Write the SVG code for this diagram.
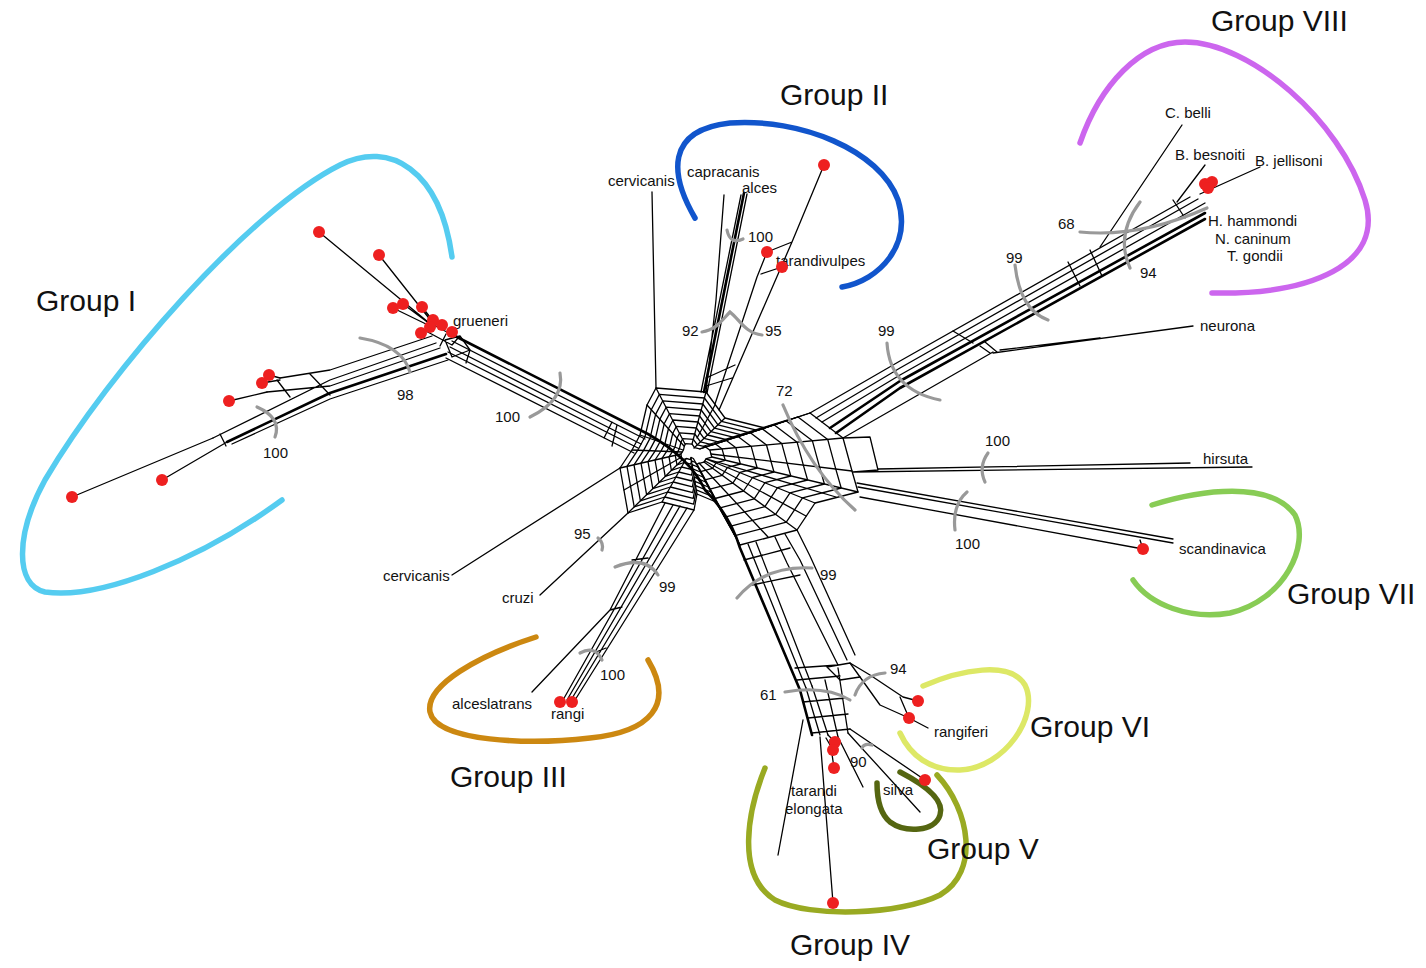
<svg xmlns="http://www.w3.org/2000/svg" xmlns:xlink="http://www.w3.org/1999/xlink" width="1426" height="968" viewBox="0 0 1426 968">
<style>
.n{fill:none;stroke:#000;stroke-width:1.3;stroke-linejoin:round;stroke-linecap:round}
.t{fill:none;stroke:#000;stroke-width:2.6;stroke-linejoin:round;stroke-linecap:round}
.b{fill:none;stroke:#999;stroke-width:3.2;stroke-linecap:round}
.ga{fill:none;stroke-width:5.5;stroke-linecap:round}
.d{fill:#ee2020}
.l{font-family:"Liberation Sans",Arial,sans-serif;font-size:15px;fill:#111}
.g{font-family:"Liberation Sans",Arial,sans-serif;font-size:30px;fill:#111}
</style>
<defs>
<path id="ring" class="n" vector-effect="non-scaling-stroke" d="M640,435 L647,405 L656,388 L706,392 L725,418 L765,428 L810,413 L843,438 L852,471 L858,492 L815,503 L797,530 L740,545 L716,502 L697,494 L694,510 L662,502 L628,513 L620,468 L632,450 Z"/>
</defs>
<rect width="1426" height="968" fill="#fff"/>

<g id="group-arcs">
<path id="arc-I" class="ga" stroke="#55ccf0" d="M452,257 C440,170 390,140 340,165 C250,210 110,370 45,480 C15,535 15,585 45,592 C100,600 200,560 282,500"/>
<path id="arc-II" class="ga" stroke="#1155cc" d="M695,218 C670,175 665,130 730,123 C800,118 880,150 898,200 C912,245 880,280 842,287"/>
<path id="arc-III" class="ga" stroke="#cc8811" d="M536,637 C480,655 425,685 430,712 C436,742 530,745 590,738 C650,732 675,705 648,660"/>
<path id="arc-IV" class="ga" stroke="#99aa22" d="M765,768 C748,810 735,875 775,900 C810,918 900,915 940,895 C980,872 970,810 937,775"/>
<path id="arc-V" class="ga" stroke="#556611" d="M900,772 C925,785 945,800 940,815 C935,832 905,833 890,822 C878,812 877,795 877,783"/>
<path id="arc-VI" class="ga" stroke="#dde866" d="M923,686 C960,670 1010,660 1025,685 C1040,715 1005,768 960,770 C930,771 910,755 900,733"/>
<path id="arc-VII" class="ga" stroke="#88cc55" d="M1152,505 C1200,490 1270,480 1295,515 C1310,545 1285,600 1230,613 C1190,620 1150,605 1133,580"/>
<path id="arc-VIII" class="ga" stroke="#cc66ee" d="M1080,143 C1100,85 1140,42 1185,42 C1250,42 1340,120 1365,200 C1385,265 1310,295 1212,293"/>
</g>

<g id="group-labels">
<text class="g" x="36" y="311">Group I</text>
<text class="g" x="780" y="105">Group II</text>
<text class="g" x="450" y="787">Group III</text>
<text class="g" x="790" y="955">Group IV</text>
<text class="g" x="927" y="859">Group V</text>
<text class="g" x="1030" y="737">Group VI</text>
<text class="g" x="1287" y="604">Group VII</text>
<text class="g" x="1211" y="31">Group VIII</text>
</g>

<g id="connectors">
<!-- central mesh: nested rings -->
<use href="#ring"/>
<use href="#ring" transform="translate(690 452) scale(0.9) translate(-690 -452)"/>
<use href="#ring" transform="translate(690 452) scale(0.8) translate(-690 -452)"/>
<use href="#ring" transform="translate(690 452) scale(0.7) translate(-690 -452)"/>
<use href="#ring" transform="translate(690 452) scale(0.6) translate(-690 -452)"/>
<use href="#ring" transform="translate(690 452) scale(0.5) translate(-690 -452)"/>
<use href="#ring" transform="translate(690 452) scale(0.4) translate(-690 -452)"/>
<use href="#ring" transform="translate(690 452) scale(0.3) translate(-690 -452)"/>
<use href="#ring" transform="translate(690 452) scale(0.21) translate(-690 -452)"/>
<use href="#ring" transform="translate(690 452) scale(0.13) translate(-690 -452)"/>
<path class="n" d="M683,450 L640,435 M684,446 L647,405 M685,444 L656,388 M692,444 L706,392 M694,448 L725,418 M700,449 L765,428 M706,447 L810,413 M710,450 L843,438 M711,454 L852,471 M712,457 L858,492 M706,459 L815,503 M704,462 L797,530 M697,464 L740,545 M691,458 L697,494 M686,459 L662,502 M682,460 L628,513 M681,454 L620,468 M682,452 L632,450 M697,438 L715,405 M704,446 L787,420 M707,459 L836,497 M705,461 L806,516 M699,463 L768,537 M680,458 L624,490"/>

<!-- Group I: apex and bundles -->
<path class="n" d="M319,232 L428,322 M379,255 L432,322 M393,308 L428,325 M403,304 L430,324 M422,307 L434,322"/>
<path class="n" d="M430,323 L458,338 M424,330 L452,345 M446,334 L440,346 M458,338 L452,345 M445,340 L460,336 L470,350 L452,357 Z M470,350 L466,363"/>
<path class="t" d="M455,336 L648,434 Q690,458 705,490 Q730,515 740,548 L800,690 L812,735"/>
<path class="n" d="M452,341 L645,439 M450,347 L641,444 M448,352 L638,448 M446,358 L634,453 M612,422 L604,438 M617,425 L612,446"/>
<path class="n" d="M432,336 L330,370 L280,378 M436,343 L330,380 L213,438 M440,348 L330,386 L267,392 M448,360 L330,399 L232,444 M310,374 L330,395 M277,380 L290,397 M220,434 L226,446"/>
<path class="t" d="M446,354 L330,393 L227,442"/>
<path class="n" d="M280,378 L269,375 M280,380 L262,383 M267,392 L229,401 M213,438 L72,497 M227,442 L162,480"/>

<!-- Group II bundle -->
<path class="n" d="M652,192 L656,388 M724,195 L716,300 L706,392 M741,195 L701,392 M747,194 L707,393"/>
<path class="t" d="M744,193 L704,392"/>
<path class="n" d="M824,165 L792,242 L719,410 M767,252 L757,277 L715,404 M767,252 L792,242 M782,267 L761,274 M706,378 L735,365 M706,386 L732,378"/>

<!-- Group VIII bundle -->
<path class="n" d="M810,413 L900,361 L1190,197 M816,418 L900,368 L1198,199 M822,422 L900,375 L1205,203 M843,438 L993,352"/>
<path class="t" d="M830,428 L900,381 L1205,213 M836,433 L900,388 L1205,219"/>
<path class="n" d="M953,331 L973,343 M980,346 L990,353 M985,342 L997,352 M993,353 L1193,326 M1000,350 L1100,338 M1068,262 L1080,286 M1090,250 L1102,276 M1173,200 L1185,218"/>
<path class="n" d="M1182,125 L1100,247 M1205,165 L1177,202 M1260,167 L1200,194"/>

<!-- hirsuta / scandinavica -->
<path class="n" d="M843,438 L870,437 L878,470 L853,472 M853,472 L1252,467 M878,469 L1190,463 M857,483 L1173,539 M858,487 L1173,543 M860,497 L1143,549 M1140,540 L1143,549"/>

<!-- Bottom bundle (Groups IV-VI) -->
<path class="n" d="M748,544 L806,688 M756,542 L812,686 M775,537 L787,563 L838,665 M785,534 L800,560 L847,660 M797,530 L810,556 L855,655 M744,560 L790,548 M752,585 L800,575 M795,668 L838,665 M827,667 L850,663 L860,677 L840,680 Z"/>
<path class="n" d="M806,688 L820,735 M812,686 L828,735 M825,680 L838,737 M838,668 L848,733 M797,680 L840,676 M803,702 L845,698 M808,718 L848,714 M812,733 L850,729"/>
<path class="n" d="M850,663 L870,675 L903,697 L918,701 M860,677 L880,705 L909,718 L928,728 M900,697 L909,718"/>
<path class="n" d="M803,720 L778,855 M820,737 L833,903 M828,735 L835,742 M826,738 L833,750 M830,740 L834,768 M838,737 L863,787 M848,733 L920,812 M850,729 L925,780"/>

<!-- Group III bundle and lower left -->
<path class="n" d="M694,510 L575,700 M687,508 L571,700 M680,506 L567,700 M673,505 L563,700 M665,503 L610,610 L532,692 M610,610 L622,607 M596,652 L606,648 M632,560 L648,558"/>
<path class="n" d="M452,575 L620,468 M540,595 L628,513"/>
</g>

<g id="bootstrap">
<path class="b" d="M360,338 Q402,345 410,372"/>
<path class="b" d="M560,373 Q565,400 530,417"/>
<path class="b" d="M257,407 Q282,418 275,437"/>
<path class="b" d="M727,230 Q730,245 743,239"/>
<path class="b" d="M702,332 C716,330 722,320 730,312 C740,320 745,333 762,335"/>
<path class="b" d="M783,405 Q810,470 855,510"/>
<path class="b" d="M887,343 Q890,390 940,400"/>
<path class="b" d="M1015,265 Q1020,310 1048,320"/>
<path class="b" d="M1080,232 Q1140,238 1207,208"/>
<path class="b" d="M1140,202 Q1115,235 1130,268"/>
<path class="b" d="M988,453 Q978,467 985,482"/>
<path class="b" d="M967,492 Q952,505 955,530"/>
<path class="b" d="M737,598 Q765,565 812,568"/>
<path class="b" d="M785,692 Q825,685 850,700"/>
<path class="b" d="M855,695 Q862,675 885,673"/>
<path class="b" d="M862,748 Q864,743 872,745"/>
<path class="b" d="M598,538 Q604,543 602,550"/>
<path class="b" d="M615,567 Q645,555 658,575"/>
<path class="b" d="M580,653 Q595,645 602,660"/>
<g class="l">
<text x="397" y="400">98</text>
<text x="495" y="422">100</text>
<text x="263" y="458">100</text>
<text x="748" y="242">100</text>
<text x="682" y="336">92</text>
<text x="765" y="336">95</text>
<text x="776" y="396">72</text>
<text x="878" y="336">99</text>
<text x="1006" y="263">99</text>
<text x="1058" y="229">68</text>
<text x="1140" y="278">94</text>
<text x="985" y="446">100</text>
<text x="955" y="549">100</text>
<text x="820" y="580">99</text>
<text x="760" y="700">61</text>
<text x="890" y="674">94</text>
<text x="850" y="767">90</text>
<text x="574" y="539">95</text>
<text x="659" y="592">99</text>
<text x="600" y="680">100</text>
</g>
</g>

<g id="taxa" class="l">
<text x="453" y="326">grueneri</text>
<text x="608" y="186">cervicanis</text>
<text x="687" y="177">capracanis</text>
<text x="742" y="193">alces</text>
<text x="776" y="266">tarandivulpes</text>
<text x="1165" y="118">C. belli</text>
<text x="1175" y="160">B. besnoiti</text>
<text x="1255" y="166">B. jellisoni</text>
<text x="1208" y="226">H. hammondi</text>
<text x="1215" y="244">N. caninum</text>
<text x="1227" y="261">T. gondii</text>
<text x="1200" y="331">neurona</text>
<text x="1203" y="464">hirsuta</text>
<text x="1179" y="554">scandinavica</text>
<text x="934" y="737">rangiferi</text>
<text x="883" y="795">silva</text>
<text x="791" y="796">tarandi</text>
<text x="785" y="814">elongata</text>
<text x="452" y="709">alceslatrans</text>
<text x="551" y="719">rangi</text>
<text x="502" y="603">cruzi</text>
<text x="383" y="581">cervicanis</text>
</g>

<g id="dots" class="d">
<circle cx="319" cy="232" r="6"/><circle cx="379" cy="255" r="6"/><circle cx="393" cy="308" r="6"/><circle cx="403" cy="304" r="6"/><circle cx="422" cy="307" r="6"/>
<circle cx="433" cy="320" r="6"/><circle cx="430" cy="327" r="6"/><circle cx="421" cy="333" r="6"/><circle cx="442" cy="325" r="6"/><circle cx="452" cy="332" r="6"/>
<circle cx="269" cy="375" r="6"/><circle cx="262" cy="383" r="6"/><circle cx="229" cy="401" r="6"/><circle cx="162" cy="480" r="6"/><circle cx="72" cy="497" r="6"/>
<circle cx="824" cy="165" r="6"/><circle cx="767" cy="252" r="6"/><circle cx="782" cy="267" r="6"/>
<circle cx="1205" cy="184" r="6"/><circle cx="1212" cy="182" r="6"/><circle cx="1208" cy="188" r="6"/>
<circle cx="1143" cy="549" r="6"/>
<circle cx="918" cy="701" r="6"/><circle cx="909" cy="718" r="6"/>
<circle cx="925" cy="780" r="6"/>
<circle cx="835" cy="742" r="6"/><circle cx="833" cy="750" r="6"/><circle cx="834" cy="768" r="6"/><circle cx="833" cy="903" r="6"/>
<circle cx="560" cy="702" r="6"/><circle cx="572" cy="702" r="6"/>
</g>
</svg>
